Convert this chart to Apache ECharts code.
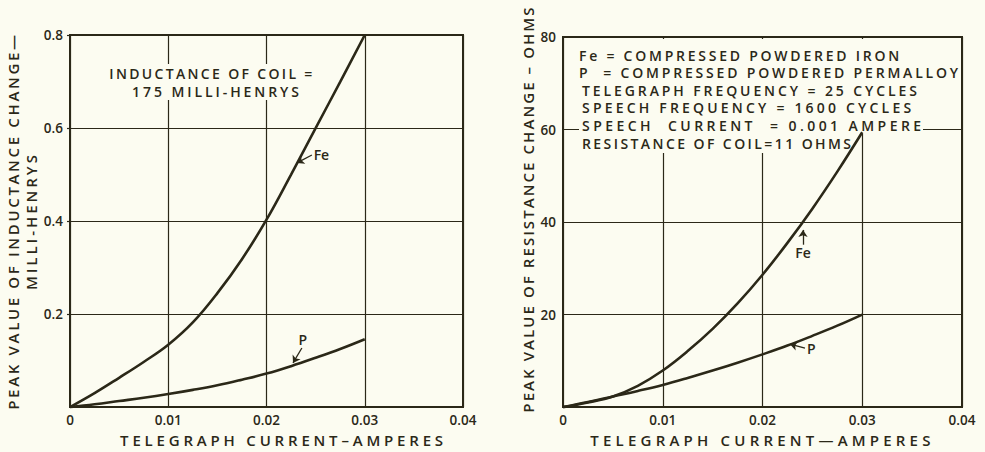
<!DOCTYPE html>
<html><head><meta charset="utf-8">
<script src="https://cdn.jsdelivr.net/npm/echarts@6/dist/echarts.min.js"></script>
<style>html,body{margin:0;padding:0;background:#fcfcf1}#c{width:985px;height:452px}</style>
</head><body><div id="c"></div>
<script>
// ---- data ----
const current = [0, 0.0025, 0.005, 0.0075, 0.01, 0.0125, 0.015, 0.0175, 0.02, 0.0225, 0.025, 0.0275, 0.03];
const feInductance = [0, 0.03, 0.063, 0.097, 0.134, 0.182, 0.245, 0.318, 0.403, 0.5, 0.6, 0.699, 0.8];
const pInductance = [0, 0.006, 0.013, 0.02, 0.028, 0.037, 0.047, 0.059, 0.072, 0.088, 0.106, 0.125, 0.146];
const feResistance = [0, 1.0, 2.3, 4.6, 7.9, 12.1, 16.9, 22.4, 28.6, 35.5, 42.9, 50.9, 59.4];
const pResistance = [0, 1.1, 2.3, 3.5, 4.8, 6.3, 7.9, 9.6, 11.4, 13.3, 15.4, 17.6, 20];
const xTickLabels = ['0', '0.01', '0.02', '0.03', '0.04'];
const leftYTickLabels = ['', '0.2', '0.4', '0.6', '0.8'];
const rightYTickLabels = ['', '20', '40', '60', '80'];
const leftNote = ['INDUCTANCE OF COIL =', '175 MILLI-HENRYS'];
const rightNote = ['Fe = COMPRESSED POWDERED IRON', 'P  = COMPRESSED POWDERED PERMALLOY',
  'TELEGRAPH FREQUENCY = 25 CYCLES', 'SPEECH FREQUENCY = 1600 CYCLES',
  'SPEECH  CURRENT  = 0.001 AMPERE', 'RESISTANCE OF COIL=11 OHMS'];
const titles = {
  leftX: 'TELEGRAPH CURRENT–AMPERES', rightX: 'TELEGRAPH CURRENT—AMPERES',
  leftY1: 'PEAK VALUE OF INDUCTANCE CHANGE—', leftY2: 'MILLI-HENRYS',
  rightY: 'PEAK VALUE OF RESISTANCE CHANGE – OHMS'
};

// ---- style ----
const INK = '#2b2818', BG = '#fcfcf1', FONT = 'Open Sans', W = 600;
const targetWidths = {};
targetWidths[titles.leftX] = 323; targetWidths[titles.rightX] = 340;
targetWidths[titles.leftY1] = 375; targetWidths[titles.leftY2] = 135;
targetWidths[titles.rightY] = 405;
targetWidths[leftNote[0]] = 203; targetWidths[leftNote[1]] = 167;
[320, 379, 335, 329, 339, 269].forEach((w, i) => targetWidths[rightNote[i]] = w);

const zip = (xs, ys) => xs.map((x, i) => [x, ys[i]]);

function xAxis(gi, name, pad) {
  return {
    type: 'value', gridIndex: gi, min: 0, max: 0.04, interval: 0.01,
    name: name, nameLocation: 'middle', nameGap: 21,
    nameTextStyle: { color: INK, fontFamily: FONT, fontWeight: W, fontSize: 15, padding: pad },
    axisLine: { show: false }, axisTick: { show: false },
    axisLabel: { color: INK, fontFamily: FONT, fontWeight: W, fontSize: 13.5, margin: 6,
      formatter: (v) => xTickLabels[Math.round(v / 0.01)] },
    splitLine: { show: true, lineStyle: { color: INK, width: 1.2 } }
  };
}
function yAxis(gi, max, interval, labels, name, gap, pad, tick) {
  return {
    type: 'value', gridIndex: gi, min: 0, max: max, interval: interval,
    name: name, nameLocation: 'middle', nameGap: gap, nameRotate: 90,
    nameTextStyle: { color: INK, fontFamily: FONT, fontWeight: W, fontSize: 15, lineHeight: 18, padding: pad },
    axisLine: { show: false },
    axisTick: { show: tick, length: 3, lineStyle: { color: INK, width: 1.2 } },
    axisLabel: { color: INK, fontFamily: FONT, fontWeight: W, fontSize: 13.5, margin: 7, showMinLabel: false,
      formatter: (v) => labels[Math.round(v / interval)] },
    splitLine: { show: true, lineStyle: { color: INK, width: 1.2 } }
  };
}
function arrow(from, to, text, dist) {
  return {
    silent: true, symbol: ['none', 'arrow'], symbolSize: 7,
    lineStyle: { color: INK, type: 'solid', width: 1.3 },
    label: { show: true, position: 'start', formatter: text, distance: dist,
      color: INK, fontFamily: FONT, fontWeight: W, fontSize: 14 },
    data: [[{ coord: from }, { coord: to }]]
  };
}
function curve(xi, yi, data, ml) {
  return { type: 'line', xAxisIndex: xi, yAxisIndex: yi, data: data, smooth: 0.4,
    showSymbol: false, lineStyle: { color: INK, width: 2.6 }, markLine: ml, z: 3 };
}
function noteText(text, x, y, align) {
  return { type: 'text', z: 2, style: { text: text, x: x, y: y, align: align, textAlign: align,
    verticalAlign: 'middle', textVerticalAlign: 'middle', fill: INK,
    font: W + ' 14px "' + FONT + '"' } };
}
function mask(x, y, w, h) {
  return { type: 'rect', z: 1, silent: true, shape: { x: x, y: y, width: w, height: h }, style: { fill: BG } };
}

const rightLineY = [55, 72.5, 90, 107.5, 125, 143];
const graphics = [
  mask(106, 64, 214, 36),
  mask(566, 39, 394, 79),
  mask(579, 117, 344, 17),
  mask(579, 133, 278, 20),
  noteText(leftNote[0], 212, 73, 'center'),
  noteText(leftNote[1], 217, 91, 'center')
];
rightNote.forEach((t, i) => graphics.push(noteText(t, i < 2 ? 579 : 582, rightLineY[i], 'left')));

const option = {
  backgroundColor: BG, animation: false,
  grid: [
    { left: 70, right: 522, top: 35, bottom: 39, show: true, borderColor: INK, borderWidth: 2 },
    { left: 563, right: 23, top: 37, bottom: 39, show: true, borderColor: INK, borderWidth: 2 }
  ],
  xAxis: [xAxis(0, titles.leftX, [0, 0, 0, 34]), xAxis(1, titles.rightX, [0, 0, 0, 0])],
  yAxis: [
    yAxis(0, 0.8, 0.2, leftYTickLabels, titles.leftY1 + '\n' + titles.leftY2, 26, [0, 0, 0, 0], true),
    yAxis(1, 80, 20, rightYTickLabels, titles.rightY, 22, [0, 0, 0, 26], false)
  ],
  series: [
    curve(0, 0, zip(current, feInductance), arrow([0.02462, 0.542], [0.0231, 0.525], 'Fe', 2)),
    curve(0, 0, zip(current, pInductance), arrow([0.0236, 0.127], [0.0227, 0.095], 'P', 2)),
    curve(1, 1, zip(current, feResistance), arrow([0.02406, 35.1], [0.02406, 38.3], 'Fe', 1)),
    curve(1, 1, zip(current, pResistance), arrow([0.02426, 12.77], [0.02276, 13.6], 'P', 2))
  ],
  graphic: graphics
};

const chart = echarts.init(document.getElementById('c'), null, { renderer: 'svg' });
chart.setOption(option);

function spaceText() {
  document.querySelectorAll('#c svg text').forEach((t) => {
    const s = t.textContent;
    const w = targetWidths[s];
    if (!w) return;
    t.style.letterSpacing = '0px';
    const nat = t.getComputedTextLength();
    const ls = (w - nat) / Math.max(1, s.length - 1);
    t.style.letterSpacing = ls.toFixed(2) + 'px';
  });
}
chart.on('finished', spaceText);
setTimeout(spaceText, 50);
</script></body></html>
